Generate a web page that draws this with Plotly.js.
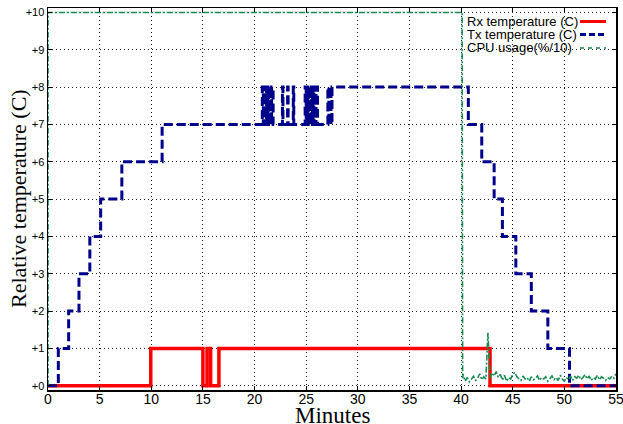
<!DOCTYPE html>
<html>
<head>
<meta charset="utf-8">
<script src="https://cdn.plot.ly/plotly-3.0.1.min.js"></script>
<style>html,body{margin:0;padding:0;background:#fff;}#chart{width:623px;height:424px;}</style>
</head>
<body>
<div id="chart"></div>
<script>
// ---- data ----
const seriesNames = ["Rx temperature (C)", "Tx temperature (C)", "CPU usage(%/10)"];

const rxTime = [0, 9.95, 15.0, 15.4, 15.75, 16.55, 42.8, 55];
const rxTemp = [0, 1, 0, 1, 0, 1, 0, 0];

const txTime = [0, 1.0, 2.0, 3.0, 4.05, 5.1, 7.15, 11.05,
  20.75, 20.85, 20.9, 21.0, 21.05, 21.15, 21.2, 21.3, 21.35, 21.45, 21.5, 21.6, 21.65, 21.8,
  22.7, 22.75, 23.2, 23.25, 23.75, 23.8,
  24.9, 25.0, 25.05, 25.15, 25.2, 25.3, 25.35, 25.45, 25.5, 25.6, 25.65, 25.75, 25.8, 25.9, 25.95, 26.1,
  27.1, 27.2, 27.3, 27.4, 27.5,
  40.7, 42.0, 43.2, 44.0, 45.3, 46.8, 48.4, 50.5, 55];
const txTemp = [0, 1, 2, 3, 4, 5, 6, 7,
  8, 7, 8, 7, 8, 7, 8, 7, 8, 7, 8, 7, 8, 7,
  8, 7, 8, 7, 8, 7,
  8, 7, 8, 7, 8, 7, 8, 7, 8, 7, 8, 7, 8, 7, 8, 7,
  8, 7, 8, 7, 8,
  7, 6, 5, 4, 3, 2, 1, 0, 0];

const cpuTime = [0, 0, 40.1, 40.15,
  40.2, 40.4, 40.6, 40.8, 41.0, 41.2, 41.4, 41.6, 41.8, 42.0,
  42.2, 42.4, 42.6, 42.8, 43.0, 43.2, 43.4, 43.6, 43.8, 44.0,
  44.2, 44.4, 44.6, 44.8, 45.0, 45.2, 45.4, 45.6, 45.8, 46.0,
  46.2, 46.4, 46.6, 46.8, 47.0, 47.2, 47.4, 47.6, 47.8, 48.0,
  48.2, 48.4, 48.6, 48.8, 49.0, 49.2, 49.4, 49.6, 49.8, 50.0,
  50.2, 50.4, 50.6, 50.8, 51.0, 51.2, 51.4, 51.6, 51.8, 52.0,
  52.2, 52.4, 52.6, 52.8, 53.0, 53.2, 53.4, 53.6, 53.8, 54.0,
  54.2, 54.4, 54.6, 54.8, 55.0];
const cpuUsage = [0, 10, 10, 0.2,
  0.30, 0.12, 0.22, 0.10, 0.18, 0.25, 0.14, 0.20, 0.32, 0.16,
  0.24, 0.18, 1.42, 0.20, 0.34, 0.26, 0.38, 0.22, 0.30, 0.15,
  0.28, 0.12, 0.22, 0.18, 0.30, 0.36, 0.24, 0.20, 0.14, 0.26,
  0.18, 0.22, 0.12, 0.24, 0.16, 0.20, 0.26, 0.14, 0.22, 0.18,
  0.24, 0.12, 0.20, 0.26, 0.16, 0.22, 0.14, 0.28, 0.18, 0.12,
  0.22, 0.16, 0.26, 0.14, 0.24, 0.20, 0.28, 0.16, 0.22, 0.30,
  0.18, 0.26, 0.14, 0.22, 0.18, 0.28, 0.16, 0.24, 0.20, 0.14,
  0.22, 0.18, 0.26, 0.20, 0.32];

const xTickVals = [0, 5, 10, 15, 20, 25, 30, 35, 40, 45, 50, 55];
const yTickVals = [0, 1, 2, 3, 4, 5, 6, 7, 8, 9, 10];
const yTickText = ["+0", "+1", "+2", "+3", "+4", "+5", "+6", "+7", "+8", "+9", "+10"];

// ---- styles ----
const rxColor = "#ff0000", txColor = "#00008b", cpuColor = "#188a50";
const cpuDash = "6px,2px,2px,2px";
const txDash = "9px,4px";

const traces = [
  {x: rxTime, y: rxTemp, mode: "lines", name: seriesNames[0],
   line: {color: rxColor, width: 3.5, shape: "hv"}},
  {x: txTime, y: txTemp, mode: "lines", name: seriesNames[1],
   line: {color: txColor, width: 3, shape: "hv", dash: txDash}},
  {x: cpuTime, y: cpuUsage, mode: "lines", name: seriesNames[2],
   line: {color: cpuColor, width: 1.6, dash: cpuDash}}
];

// custom legend (text then line sample, as in the original)
const legRowY = [0.9647, 0.9306, 0.8953];
const legStyles = [
  {color: rxColor, width: 3, dash: "solid"},
  {color: txColor, width: 3, dash: "6px,3px"},
  {color: cpuColor, width: 1.5, dash: "4px,4px"}
];
const annotations = [];
const shapes = [];
seriesNames.forEach((nm, i) => {
  annotations.push({xref: "paper", yref: "paper", x: 0.734, y: legRowY[i],
    xanchor: "left", yanchor: "middle", text: nm, showarrow: false,
    font: {family: "Liberation Sans, Arial, sans-serif", size: 13, color: "#000"}});
  shapes.push({type: "line", xref: "paper", yref: "paper",
    x0: 0.9366, x1: 0.9824, y0: legRowY[i], y1: legRowY[i],
    line: legStyles[i], layer: "above"});
});
annotations.push({xref: "paper", yref: "paper", x: 0.5, y: -0.068,
  xanchor: "center", yanchor: "middle", text: "Minutes", showarrow: false,
  font: {family: "Liberation Serif, Times New Roman, serif", size: 23, color: "#000"}});
annotations.push({xref: "paper", yref: "paper", x: -0.0528, y: 0.5,
  xanchor: "center", yanchor: "middle", text: "Relative temperature (C)", textangle: -90,
  showarrow: false,
  font: {family: "Liberation Serif, Times New Roman, serif", size: 22, color: "#000"}});

const gridStyle = {showgrid: true, gridcolor: "#222", griddash: "1px,3px", gridwidth: 1};

const layout = {
  width: 623, height: 424,
  margin: {l: 48, r: 7, t: 8, b: 34, pad: 0},
  paper_bgcolor: "#fff", plot_bgcolor: "#fff",
  showlegend: false,
  font: {family: "Liberation Sans, Arial, sans-serif", color: "#000"},
  xaxis: Object.assign({
    range: [0, 55], tickvals: xTickVals, ticks: "inside", ticklen: 4, tickcolor: "#000",
    showline: true, linecolor: "#000", linewidth: 1.5, mirror: "ticks",
    zeroline: false, tickfont: {size: 14, color: "#000"},
    ticklabeloverflow: "allow", ticklabelstandoff: -4
  }, gridStyle),
  yaxis: Object.assign({
    range: [-0.115, 10.12], tickvals: yTickVals, ticktext: yTickText,
    ticks: "inside", ticklen: 4, tickcolor: "#000",
    showline: true, linecolor: "#000", linewidth: 1.5, mirror: "ticks",
    zeroline: false, tickfont: {size: 11, color: "#000"}
  }, gridStyle),
  annotations: annotations,
  shapes: shapes
};

Plotly.newPlot("chart", traces, layout, {staticPlot: true, displayModeBar: false});
</script>
</body>
</html>
